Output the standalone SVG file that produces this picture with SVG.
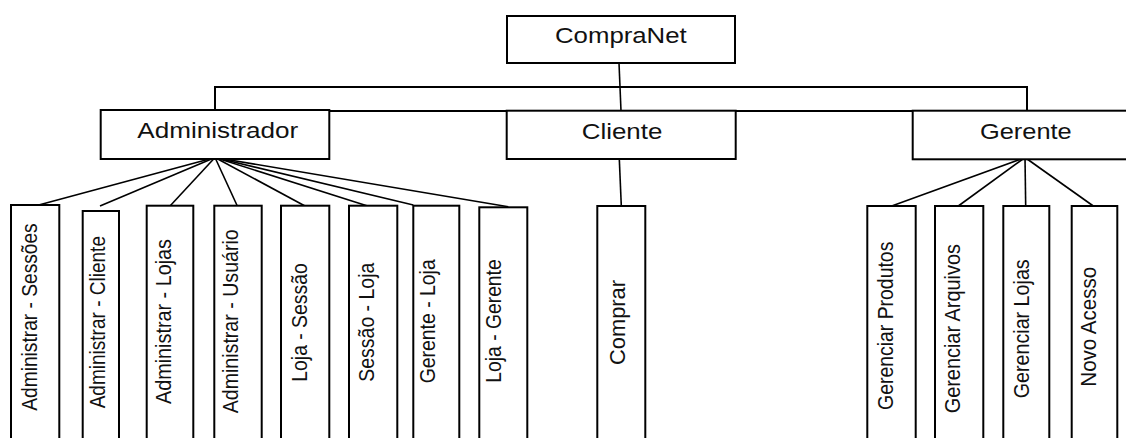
<svg xmlns="http://www.w3.org/2000/svg" width="1126" height="438" viewBox="0 0 1126 438">
<style>
  .box { fill: #ffffff; stroke: #000000; stroke-width: 2; }
  .conn line { stroke: #000000; stroke-width: 1.6; }
  .conn rect { fill: none; stroke: #000000; stroke-width: 2; }
  .lbl { font-family: "Liberation Sans", Arial, sans-serif; font-size: 22px; fill: #111111; }
  .v { font-family: "Liberation Sans", Arial, sans-serif; font-size: 22px; fill: #111111; text-anchor: middle; }
</style>
<rect width="1126" height="438" fill="#ffffff"/>

<g id="connectors" class="conn">
  <rect x="215" y="87" width="812" height="24"/>
  <line x1="619" y1="63" x2="621" y2="111"/>
  <line x1="619.3" y1="159" x2="621.3" y2="206"/>
  <line x1="215" y1="157.5" x2="35" y2="206"/>
  <line x1="215" y1="157.5" x2="100" y2="206"/>
  <line x1="215" y1="157.5" x2="170" y2="206"/>
  <line x1="215" y1="157.5" x2="237.3" y2="206"/>
  <line x1="215" y1="157.5" x2="305" y2="206"/>
  <line x1="215" y1="157.5" x2="370" y2="206.7"/>
  <line x1="215" y1="157.5" x2="413.3" y2="205"/>
  <line x1="215" y1="157.5" x2="508.3" y2="206.7"/>
  <line x1="1025" y1="157.5" x2="891.7" y2="206"/>
  <line x1="1025" y1="157.5" x2="958.3" y2="206"/>
  <line x1="1025" y1="157.5" x2="1025.7" y2="206"/>
  <line x1="1025" y1="157.5" x2="1093.3" y2="206"/>
</g>

<g id="compranet">
  <rect class="box" x="507" y="16" width="228" height="47"/>
  <text class="lbl" x="555" y="43.3" textLength="131.7" lengthAdjust="spacingAndGlyphs">CompraNet</text>
</g>

<g id="administrador">
  <rect class="box" x="100.7" y="110" width="228.6" height="49"/>
  <text class="lbl" x="137.3" y="137.5" textLength="161" lengthAdjust="spacingAndGlyphs">Administrador</text>
</g>

<g id="cliente">
  <rect class="box" x="506.7" y="110.7" width="229" height="48.3"/>
  <text class="lbl" x="581.7" y="139" textLength="80.6" lengthAdjust="spacingAndGlyphs">Cliente</text>
</g>

<g id="gerente">
  <rect class="box" x="912.7" y="110.7" width="220" height="48.6"/>
  <text class="lbl" x="980" y="139" textLength="91.7" lengthAdjust="spacingAndGlyphs">Gerente</text>
</g>

<g id="adm-sessoes">
  <rect class="box" x="11" y="205" width="48.3" height="240"/>
  <text class="v" transform="translate(36.7 317) rotate(-90)" textLength="187.4" lengthAdjust="spacingAndGlyphs">Administrar - Sessões</text>
</g>
<g id="adm-cliente">
  <rect class="box" x="82.7" y="211" width="36.3" height="240"/>
  <text class="v" transform="translate(105 322.2) rotate(-90)" textLength="172.3" lengthAdjust="spacingAndGlyphs">Administrar - Cliente</text>
</g>
<g id="adm-lojas">
  <rect class="box" x="146.7" y="205.7" width="46.6" height="240"/>
  <text class="v" transform="translate(170.7 321.5) rotate(-90)" textLength="165" lengthAdjust="spacingAndGlyphs">Administrar - Lojas</text>
</g>
<g id="adm-usuario">
  <rect class="box" x="214.3" y="205.7" width="47.4" height="240"/>
  <text class="v" transform="translate(238.3 321.3) rotate(-90)" textLength="184" lengthAdjust="spacingAndGlyphs">Administrar - Usuário</text>
</g>
<g id="loja-sessao">
  <rect class="box" x="281" y="205.7" width="48.3" height="240"/>
  <text class="v" transform="translate(307.3 322.5) rotate(-90)" textLength="118.4" lengthAdjust="spacingAndGlyphs">Loja - Sessão</text>
</g>
<g id="sessao-loja">
  <rect class="box" x="349" y="205.7" width="48.3" height="240"/>
  <text class="v" transform="translate(374 322.2) rotate(-90)" textLength="119" lengthAdjust="spacingAndGlyphs">Sessão - Loja</text>
</g>
<g id="gerente-loja">
  <rect class="box" x="413.3" y="205.7" width="46" height="240"/>
  <text class="v" transform="translate(435 321.3) rotate(-90)" textLength="124" lengthAdjust="spacingAndGlyphs">Gerente - Loja</text>
</g>
<g id="loja-gerente">
  <rect class="box" x="479.3" y="207.3" width="48" height="240"/>
  <text class="v" transform="translate(500.7 321) rotate(-90)" textLength="123.4" lengthAdjust="spacingAndGlyphs">Loja - Gerente</text>
</g>

<g id="comprar">
  <rect class="box" x="597.3" y="206" width="48" height="240"/>
  <text class="v" transform="translate(624.7 322.5) rotate(-90)" textLength="85" lengthAdjust="spacingAndGlyphs">Comprar</text>
</g>

<g id="gerenciar-produtos">
  <rect class="box" x="867.3" y="206" width="48.4" height="240"/>
  <text class="v" transform="translate(892.7 325.8) rotate(-90)" textLength="168.3" lengthAdjust="spacingAndGlyphs">Gerenciar Produtos</text>
</g>
<g id="gerenciar-arquivos">
  <rect class="box" x="935" y="206" width="48.3" height="240"/>
  <text class="v" transform="translate(960 328.7) rotate(-90)" textLength="169.3" lengthAdjust="spacingAndGlyphs">Gerenciar Arquivos</text>
</g>
<g id="gerenciar-lojas">
  <rect class="box" x="1003.3" y="206" width="46" height="240"/>
  <text class="v" transform="translate(1029 328.8) rotate(-90)" textLength="139" lengthAdjust="spacingAndGlyphs">Gerenciar Lojas</text>
</g>
<g id="novo-acesso">
  <rect class="box" x="1071.7" y="206" width="45.6" height="240"/>
  <text class="v" transform="translate(1096 326.7) rotate(-90)" textLength="120" lengthAdjust="spacingAndGlyphs">Novo Acesso</text>
</g>
</svg>
